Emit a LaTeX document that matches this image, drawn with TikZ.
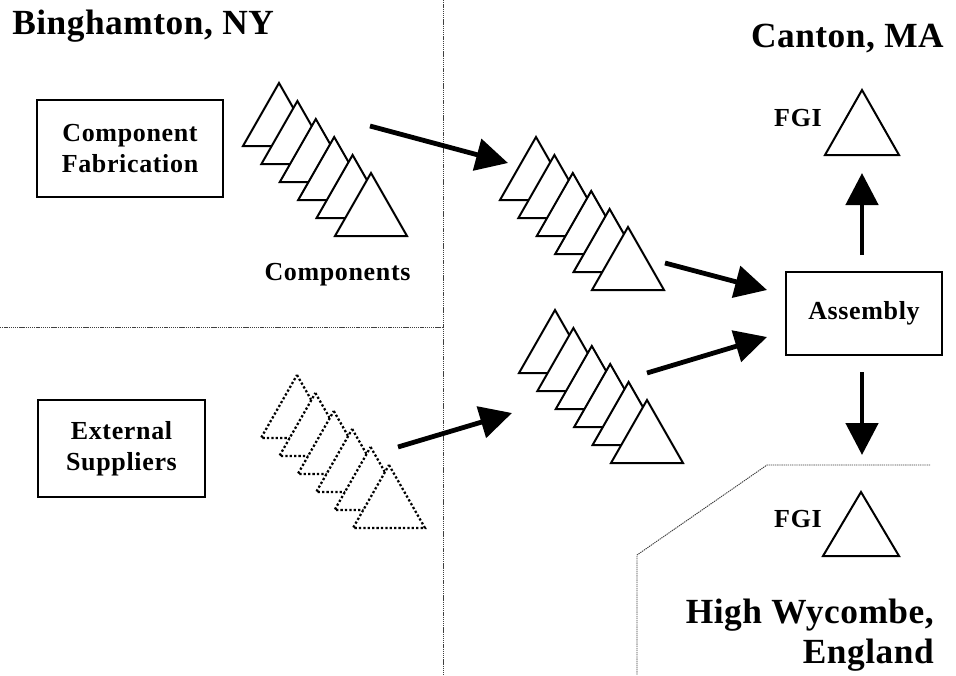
\documentclass[tikz,border=0pt]{standalone}
\usepackage{fontspec}
\setmainfont{Liberation Serif}
\usetikzlibrary{arrows.meta,positioning,calc}

\newcommand{\boxfont}{\fontsize{19.5}{23.5}\selectfont\bfseries\addfontfeatures{LetterSpace=2.5}}
\newcommand{\sitefont}{\fontsize{26.5}{30}\selectfont\bfseries\addfontfeatures{LetterSpace=1.5}}
% a stack of six inventory triangles, first apex at (#1,#2)
\newcommand{\tristack}[3]{%
  \foreach \k in {0,...,5}{
    \draw[#3] ({#1+18.4*\k},{#2+18*\k}) -- ++(36,63) -- ++(-72,0) -- cycle;
  }}

\begin{document}
\begin{tikzpicture}[x=0.75pt,y=-0.75pt,
  tri/.style={draw,line width=1.5pt,fill=white},
  dottri/.style={draw,line width=1.7pt,fill=white,dash pattern=on 1.7pt off 1.6pt},
  box/.style={draw,line width=1.5pt,align=center,inner sep=0pt,font=\boxfont},
  lbl/.style={inner sep=0pt,font=\boxfont},
  site/.style={inner sep=0pt,font=\sitefont},
  flow/.style={line width=3.6pt,-{Triangle[length=24pt,width=24pt]}},
  divider/.style={black!75,line width=0.7pt,dash pattern=on 1pt off 0.6pt}]
\useasboundingbox (0,0) rectangle (956,675);

% region borders
\draw[divider] (443,0) -- (443,675);
\draw[divider] (0,327) -- (443,327);
\draw[divider] (930,465) -- (767,465) -- (637,555) -- (637,675);

% site names
\node[site,anchor=base west] (bing) at (12,34) {Binghamton, NY};
\node[site,anchor=base east] (canton) at (944,47) {Canton, MA};
\node[site,anchor=base east] (high) at (934,623) {High Wycombe,};
\node[site,anchor=base east] (eng) at (934,663) {England};

% process boxes
\node[box,minimum width=139.5pt,minimum height=72.75pt] (fab) at (130,148.5) {Component\\Fabrication};
\node[box,minimum width=125.25pt,minimum height=72.75pt] (ext) at (121.5,448.5) {External\\Suppliers};
\node[box,minimum width=117pt,minimum height=62.25pt] (asm) at (864,313.5) {Assembly};

% inventories
\tristack{279}{83}{tri}
\tristack{536}{137}{tri}
\tristack{555}{310}{tri}
\tristack{297}{375}{dottri}
\draw[tri] (862,90) -- ++(37,65) -- ++(-74,0) -- cycle;
\draw[tri] (861,492) -- ++(38,64) -- ++(-76,0) -- cycle;
\node[lbl,anchor=base] (comp) at (337.5,280) {Components};
\node[lbl,anchor=base] (fgitop) at (798,126) {FGI};
\node[lbl,anchor=base] (fgibot) at (798,527) {FGI};

% arrow ends
\coordinate (s1) at (370,126);
\coordinate (s2in) at (508,163);
\coordinate (s2) at (665,263);
\coordinate (s3) at (647,373);
\coordinate (s3in) at (512,413);
\coordinate (s4) at (398,447);
\coordinate (asmin1) at (767,290);
\coordinate (asmin2) at (767,337);
\coordinate (asmup) at (862,255);
\coordinate (fgiup) at (862,173);
\coordinate (asmdown) at (862,372);
\coordinate (fgidown) at (862,455);

% material flow
\draw[flow] (s1) -- (s2in);
\draw[flow] (s4) -- (s3in);
\draw[flow] (s2) -- (asmin1);
\draw[flow] (s3) -- (asmin2);
\draw[flow] (asmup) -- (fgiup);
\draw[flow] (asmdown) -- (fgidown);
\end{tikzpicture}
\end{document}
